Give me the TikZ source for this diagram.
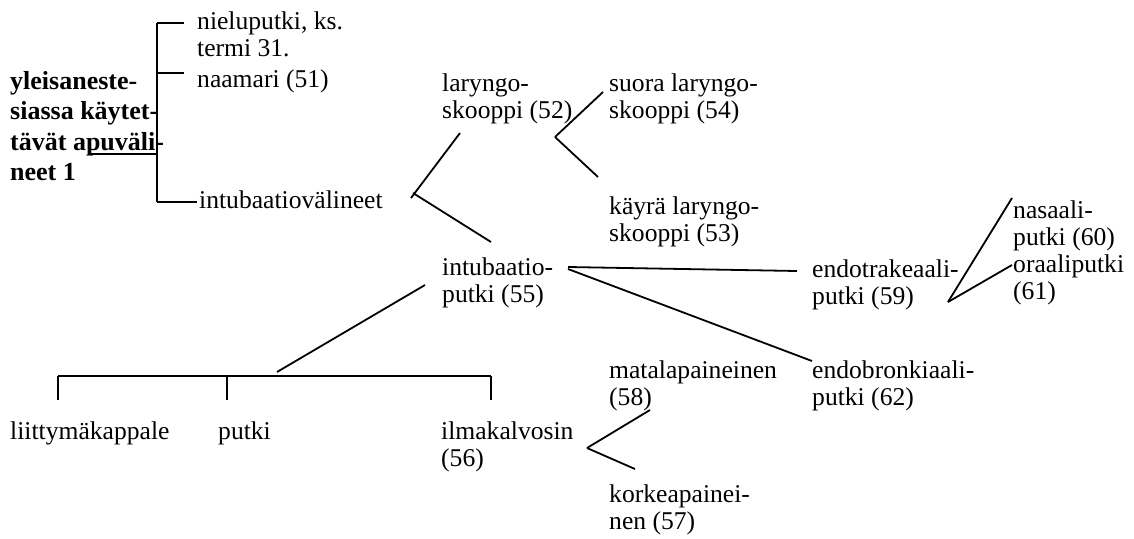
\documentclass[tikz,border=0pt]{standalone}
\usepackage{fontspec}
\setmainfont{Liberation Serif}
\newcommand{\ml}[1]{\begin{tabular}[t]{@{}l@{}}#1\end{tabular}}
\begin{document}
\begin{tikzpicture}[x=1pt,y=-1pt,
  txt/.style={anchor=base west,inner sep=0pt,font=\fontsize{25.6}{27.5}\selectfont},
  boldtxt/.style={anchor=base west,inner sep=0pt,font=\fontsize{26}{30.5}\selectfont\bfseries},
  conn/.style={draw=black,line width=1.8pt}]
\useasboundingbox (0,0) rectangle (1134,538);
% texts
\node[boldtxt] (root) at (10,89) {\ml{yleisaneste-\\siassa käytet-\\tävät apuväli-\\neet 1}};
\node[txt] (niel) at (197,29) {\ml{nieluputki, ks.\\termi 31.}};
\node[txt] (naam) at (197,87) {naamari (51)};
\node[txt] (intv) at (199,208) {intubaatiovälineet};
\node[txt] (lar) at (442,91) {\ml{laryngo-\\skooppi (52)}};
\node[txt] (suora) at (609,91) {\ml{suora laryngo-\\skooppi (54)}};
\node[txt] (kayra) at (609,214) {\ml{käyrä laryngo-\\skooppi (53)}};
\node[txt] (intp) at (442,275) {\ml{intubaatio-\\putki (55)}};
\node[txt] (endot) at (812,277) {\ml{endotrakeaali-\\putki (59)}};
\node[txt] (nas) at (1013,218) {\ml{nasaali-\\putki (60)}};
\node[txt] (ora) at (1013,272) {\ml{oraaliputki\\(61)}};
\node[txt] (endob) at (812,378) {\ml{endobronkiaali-\\putki (62)}};
\node[txt] (mata) at (609,378) {\ml{matalapaineinen\\(58)}};
\node[txt] (liit) at (10,439) {liittymäkappale};
\node[txt] (putki) at (218,439) {putki};
\node[txt] (ilma) at (441,439) {\ml{ilmakalvosin\\(56)}};
\node[txt] (kork) at (609,502) {\ml{korkeapainei-\\nen (57)}};
% coordinates
\coordinate (brT) at (157,23);
\coordinate (brM) at (157,73);
\coordinate (brU) at (157,154);
\coordinate (brB) at (157,202);
\coordinate (tkT) at (184,23);
\coordinate (tkM) at (184,73);
\coordinate (tkB) at (197,202);
\coordinate (ul) at (90,154);
\coordinate (larB) at (460,133);
\coordinate (cx1) at (411,198);
\coordinate (cx2) at (413,193);
\coordinate (intpT) at (491,242);
\coordinate (v1) at (555,137);
\coordinate (suoraL) at (603,92);
\coordinate (kayraL) at (598,177);
\coordinate (intpR) at (568,267);
\coordinate (intpR2) at (568,269);
\coordinate (endotL) at (797,271);
\coordinate (endobL) at (812,361);
\coordinate (intpB) at (425,285);
\coordinate (barTop) at (277,372);
\coordinate (hL) at (58,376);
\coordinate (hM) at (227,376);
\coordinate (hR) at (491,376);
\coordinate (hLb) at (58,400);
\coordinate (hMb) at (227,400);
\coordinate (hRb) at (491,400);
\coordinate (v2) at (587,448);
\coordinate (mataB) at (650,410);
\coordinate (korkT) at (635,469);
\coordinate (v3) at (948,302);
\coordinate (nasL) at (1012,198);
\coordinate (oraL) at (1012,265);
% connectors
\draw[conn] (brT) -- (brB);
\draw[conn] (brT) -- (tkT);
\draw[conn] (brM) -- (tkM);
\draw[conn] (brB) -- (tkB);
\draw[conn] (ul) -- (brU);
\draw[conn] (larB) -- (cx1);
\draw[conn] (cx2) -- (intpT);
\draw[conn] (v1) -- (suoraL);
\draw[conn] (v1) -- (kayraL);
\draw[conn] (intpR) -- (endotL);
\draw[conn] (intpR2) -- (endobL);
\draw[conn] (intpB) -- (barTop);
\draw[conn] (hL) -- (hR);
\draw[conn] (hL) -- (hLb);
\draw[conn] (hM) -- (hMb);
\draw[conn] (hR) -- (hRb);
\draw[conn] (v2) -- (mataB);
\draw[conn] (v2) -- (korkT);
\draw[conn] (v3) -- (nasL);
\draw[conn] (v3) -- (oraL);
\end{tikzpicture}
\end{document}
